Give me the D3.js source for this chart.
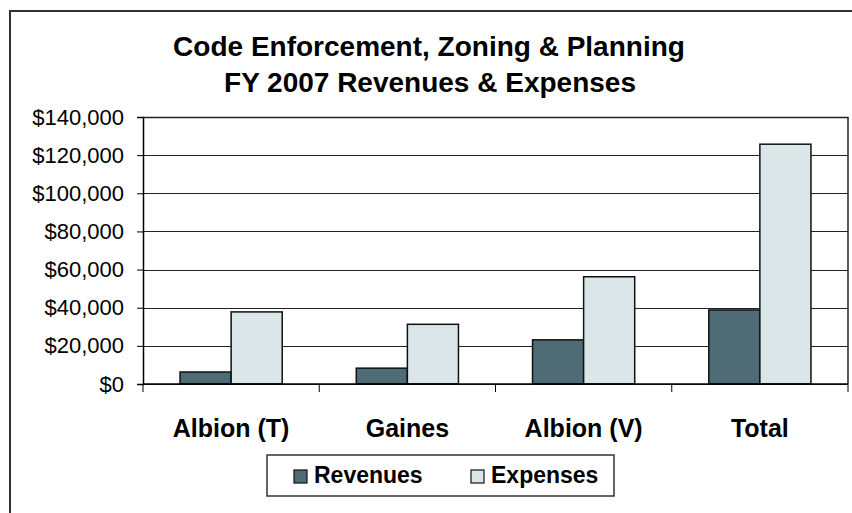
<!DOCTYPE html>
<html>
<head>
<meta charset="utf-8">
<script src="https://cdn.jsdelivr.net/npm/d3@7"></script>
<style>
  body { margin: 0; background: #fff; }
  svg { display: block; font-family: "Liberation Sans", Arial, sans-serif; }
</style>
</head>
<body>
<svg width="852" height="513"></svg>
<script>
const categories = ["Albion (T)", "Gaines", "Albion (V)", "Total"]
const series = ["Revenues", "Expenses"]
const revenues = [6300, 8300, 23150, 38830]
const expenses = [37800, 31300, 56240, 125740]
const yTicks = [0, 20000, 40000, 60000, 80000, 100000, 120000, 140000]
const colors = ["#4f6b75", "#dae6e8"]

const svg = d3.select("svg")

const margin = {top: 117, right: 4, bottom: 129, left: 143}
const width = +svg.attr("width")
const height = +svg.attr("height")
const innerWidth = width - margin.left - margin.right
const innerHeight = height - margin.top - margin.bottom

// outer chart frame - only top and left show, the rest runs off the page
svg.append("path")
    .attr("d", `M10,${height}V11H${width}`)
    .attr("fill", "none")
    .attr("stroke", "#333")
    .attr("stroke-width", 2)

const title = svg.append("text")
    .attr("text-anchor", "middle")
    .attr("font-weight", "bold")
    .attr("font-size", 28)
title.append("tspan").attr("x", 429).attr("y", 56).text("Code Enforcement, Zoning & Planning")
title.append("tspan").attr("x", 430).attr("y", 92).text("FY 2007 Revenues & Expenses")

const data = categories.map((c, i) => ({cat: c, values: [revenues[i], expenses[i]]}))

const x0 = d3.scaleBand()
    .domain(categories)
    .range([0, innerWidth])

const x1 = d3.scaleBand()
    .domain(series)
    .range([0, x0.bandwidth()])
    .paddingOuter(0.725)

const yScale = d3.scaleLinear()
    .domain([0, 140000])
    .range([innerHeight, 0])

const color = d3.scaleOrdinal().domain(series).range(colors)

const g = svg.append("g")
    .attr("transform", `translate(${margin.left}, ${margin.top})`)

// gridlines
g.append("g")
    .selectAll("line")
    .data(yTicks)
    .join("line")
    .attr("x1", 0).attr("x2", innerWidth)
    .attr("y1", d => Math.round(yScale(d)) + 0.5)
    .attr("y2", d => Math.round(yScale(d)) + 0.5)
    .attr("stroke", "#222")

// y axis
const yAxis = g.append("g")
    .call(d3.axisLeft(yScale)
        .tickValues(yTicks)
        .tickSize(6)
        .tickPadding(13)
        .tickFormat(d => "$" + d3.format(",")(d)))
yAxis.select(".domain").attr("stroke", "#000").attr("stroke-width", 1.5)
yAxis.selectAll(".tick line").attr("stroke", "#000")
yAxis.selectAll("text").attr("font-size", 22).attr("fill", "#000")
    .attr("font-family", "Liberation Sans, Arial, sans-serif")

// bars
const groups = g.append("g")
    .selectAll("g")
    .data(data)
    .join("g")
    .attr("transform", d => `translate(${x0(d.cat)}, 0)`)

groups.selectAll("rect")
    .data(d => d.values.map((v, i) => ({key: series[i], value: v})))
    .join("rect")
    .attr("x", d => x1(d.key))
    .attr("y", d => yScale(d.value))
    .attr("width", x1.bandwidth())
    .attr("height", d => innerHeight - yScale(d.value))
    .attr("fill", d => color(d.key))
    .attr("stroke", "#111")
    .attr("stroke-width", 1.5)

// plot border top/right
g.append("path")
    .attr("d", `M0,0.5H${innerWidth}V${innerHeight}`)
    .attr("fill", "none")
    .attr("stroke", "#222")
    .attr("stroke-width", 1.5)

// x axis with ticks at category boundaries
const xAxis = g.append("g")
    .attr("transform", `translate(0, ${innerHeight})`)
xAxis.append("line")
    .attr("x1", 0).attr("x2", innerWidth)
    .attr("stroke", "#000").attr("stroke-width", 1.5)
xAxis.selectAll(".sep")
    .data(categories.concat(["end"]))
    .join("line")
    .attr("class", "sep")
    .attr("x1", (d, i) => i * x0.step())
    .attr("x2", (d, i) => i * x0.step())
    .attr("y1", 0).attr("y2", 8)
    .attr("stroke", "#000")
xAxis.selectAll(".cat")
    .data(categories)
    .join("text")
    .attr("class", "cat")
    .attr("x", d => x0(d) + x0.bandwidth() / 2)
    .attr("y", 53)
    .attr("text-anchor", "middle")
    .attr("font-weight", "bold")
    .attr("font-size", 25)
    .text(d => d)

// legend
const legend = svg.append("g").attr("transform", "translate(267, 455)")
legend.append("rect")
    .attr("width", 347).attr("height", 41)
    .attr("fill", "#fff")
    .attr("stroke", "#333")
    .attr("stroke-width", 1.5)
const items = legend.selectAll(".item")
    .data(series)
    .join("g")
    .attr("class", "item")
    .attr("transform", (d, i) => `translate(${[27, 204][i]}, 0)`)
items.append("rect")
    .attr("y", 15).attr("width", 13).attr("height", 13)
    .attr("fill", d => color(d))
    .attr("stroke", "#111")
    .attr("stroke-width", 1.2)
items.append("text")
    .attr("x", 20).attr("y", 28)
    .attr("font-weight", "bold")
    .attr("font-size", 23)
    .text(d => d)
</script>
</body>
</html>
